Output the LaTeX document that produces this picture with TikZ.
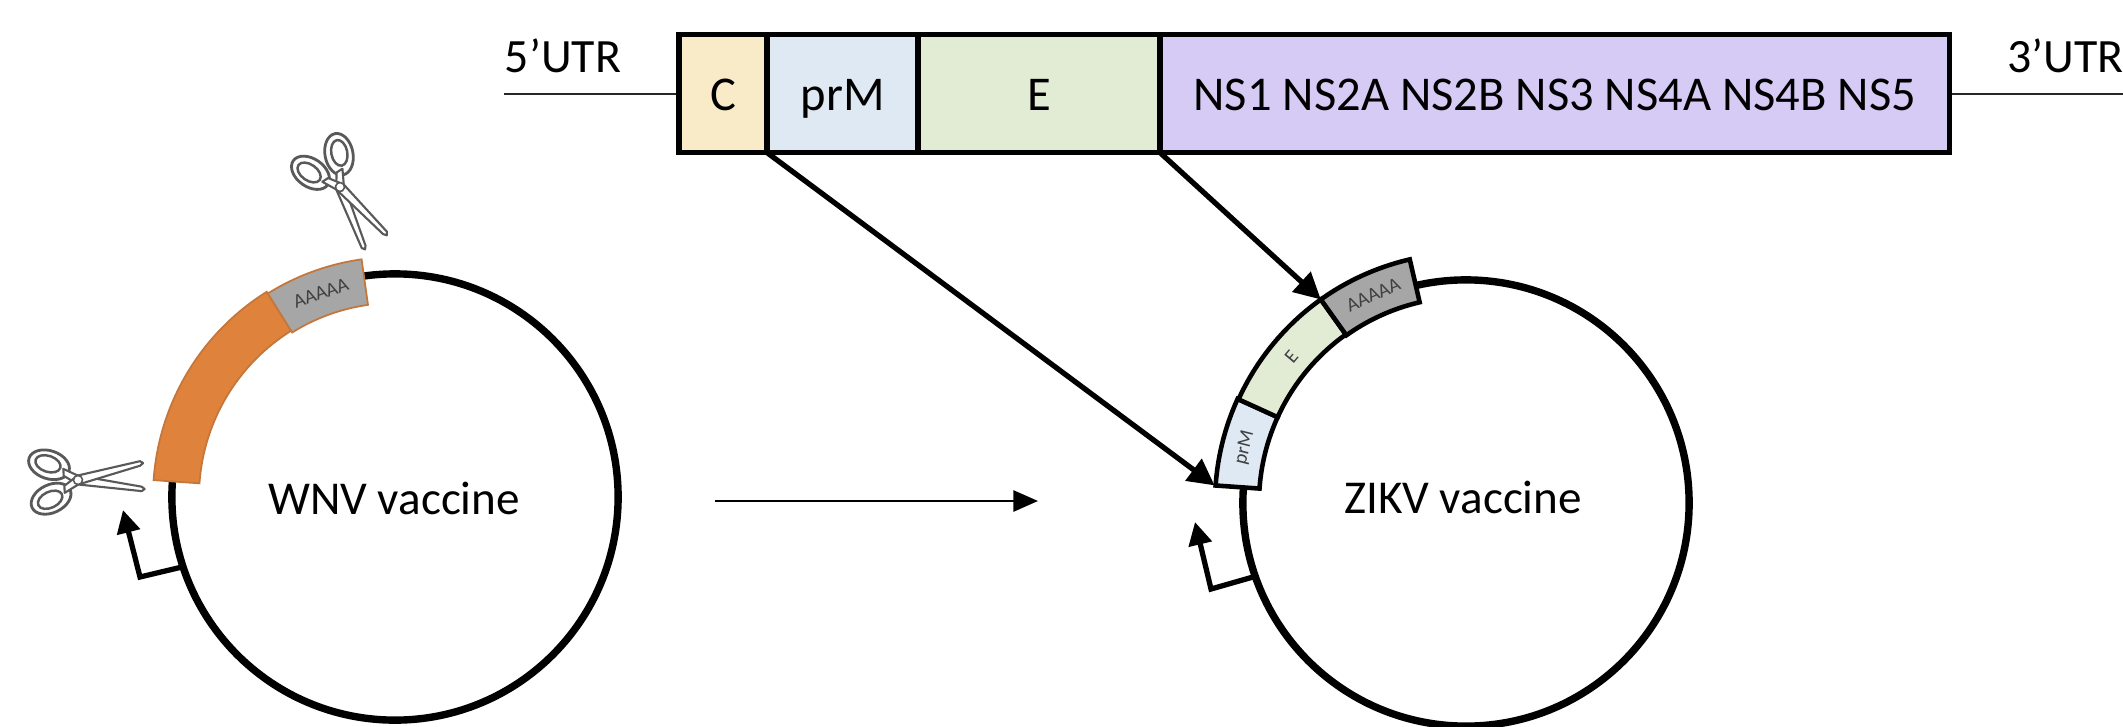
\documentclass[tikz,border=0pt]{standalone}
\usepackage{fontspec}
\setmainfont{Carlito}
\usetikzlibrary{arrows.meta}
\definecolor{cC}{HTML}{F9EBC8}
\definecolor{cprM}{HTML}{DEE9F4}
\definecolor{cE}{HTML}{E2ECD5}
\definecolor{cNS}{HTML}{D5CBF5}
\definecolor{cOr}{HTML}{DF833C}
\definecolor{cOrD}{HTML}{C5763A}
\definecolor{cGr}{HTML}{A6A6A6}
\tikzset{
  segbox/.style={draw=black,line width=1.5pt,outer sep=0pt,anchor=north west,minimum height=1.18cm,inner sep=0pt,text height=9.5pt,text depth=0pt,font=\fontsize{13.8}{16}\selectfont},
  lbl/.style={font=\fontsize{13.6}{16}\selectfont,inner sep=0pt},
  plasmid/.style={draw=black,line width=2.1pt,fill=white,circle,minimum size=4.46cm,inner sep=0pt,font=\fontsize{13.4}{16}\selectfont},
  thinline/.style={line width=0.5pt,draw=black!85},
  bigarrow/.style={line width=1.5pt,-{Triangle[length=7.5pt,width=7.5pt]}},
  promoter/.style={line width=1.5pt,-{Triangle[length=6.5pt,width=6.5pt]}},
  oseg/.style={draw=cOrD,line width=0.5pt},
  kseg/.style={draw=black,line width=1.3pt},
  tiny/.style={font=\fontsize{5.6}{6}\selectfont,inner sep=0pt,text=black!75},
  blade/.style={draw=black!65,fill=white,line width=0.6pt,line join=round},
  loopo/.style={draw=black!65,fill=white,line width=0.8pt},
}
\newcommand{\ringseg}[6]{%
  \path[#6] ([shift={(#1)}]#2:#4) arc[start angle=#2,end angle=#3,radius=#4*0.01cm]
    -- ([shift={(#1)}]#3:#5) arc[start angle=#3,end angle=#2,radius=#5*0.01cm] -- cycle;}
\newcommand{\scissorsicon}[3]{%
  \begin{scope}[shift={(#1,#2)},rotate=#3]
    \draw[loopo] (-28,-17) ellipse[x radius=0.21cm,y radius=0.14cm,rotate=22];
    \draw[loopo] (-28,17) ellipse[x radius=0.21cm,y radius=0.14cm,rotate=-22];
    \draw[blade] (-14,12) -- (0,4.5) -- (63,-10.5) -- (66,-13) -- (63,-15) -- (0,-4.5) -- (-14,5) -- cycle;
    \draw[blade] (-14,-12) -- (0,-4.5) -- (63,10.5) -- (66,13) -- (63,15) -- (0,4.5) -- (-14,-5) -- cycle;
    \draw[blade,line width=0.7pt] (-29,-18) ellipse[x radius=0.13cm,y radius=0.08cm,rotate=22];
    \draw[blade,line width=0.7pt] (-29,18) ellipse[x radius=0.13cm,y radius=0.08cm,rotate=-22];
    \draw[draw=black!65,fill=white,line width=0.45pt] (0,0) circle[radius=0.045cm];
  \end{scope}}
\begin{document}
\begin{tikzpicture}[x=0.01cm,y=0.01cm]
\useasboundingbox (0,0) rectangle (2123,726);
\clip (0,0) rectangle (2123,726);
% genome bar
\coordinate (l5) at (504,632);
\coordinate (r3) at (2123,632);
\draw[thinline] (l5) -- (679,632);
\draw[thinline] (1949,632) -- (r3);
\node[segbox,fill=cC,minimum width=0.88cm] (c) at (679,691.5) {C};
\node[segbox,fill=cprM,minimum width=1.51cm] (prm) at (767,691.5) {prM};
\node[segbox,fill=cE,minimum width=2.42cm] (e) at (918,691.5) {E};
\node[segbox,fill=cNS,minimum width=7.89cm] (ns) at (1160,691.5) {NS1 NS2A NS2B NS3 NS4A NS4B NS5};
\node[lbl] (u5) at (563,670) {5’UTR};
\node[lbl,anchor=west] (u3) at (2007,670) {3’UTR};
% plasmids
\node[plasmid] (wnv) at (395,229) {};
\node[lbl,font=\fontsize{13.4}{16}\selectfont] (wnvl) at (394,228) {WNV vaccine};
\node[plasmid] (zikv) at (1466,223) {};
\node[lbl,font=\fontsize{13.4}{16}\selectfont] (zikvl) at (1463,229) {ZIKV vaccine};
% WNV inserts
\ringseg{wnv.center}{176}{122}{242}{196}{fill=cOr,oseg}
\ringseg{wnv.center}{122}{98}{240}{194}{fill=cGr,oseg}
\node[tiny,rotate=20] (a1) at ([shift={(wnv.center)}]110:217) {AAAAA};
% ZIKV inserts
\ringseg{zikv.center}{176}{155.5}{251}{207}{fill=cprM,kseg}
\ringseg{zikv.center}{155.5}{125.5}{250}{207}{fill=cE,kseg}
\ringseg{zikv.center}{125.5}{103}{250}{206}{fill=cGr,kseg}
\node[tiny,rotate=24] (a2) at ([shift={(zikv.center)}]114:228) {AAAAA};
\node[tiny,rotate=50] (e2) at ([shift={(zikv.center)}]140:228) {E};
\node[tiny,rotate=76] (p2) at ([shift={(zikv.center)}]166:228) {prM};
% arrows
\coordinate (a1e) at ([shift={(zikv.center)}]176:252);
\coordinate (a2e) at ([shift={(zikv.center)}]125.5:250);
\draw[bigarrow] (prm.south west) -- (a1e);
\draw[bigarrow] (ns.south west) -- (a2e);
\coordinate (m1) at (715,225);
\coordinate (m2) at (1038,225);
\draw[line width=0.7pt,-{Triangle[length=7pt,width=6pt]}] (m1) -- (m2);
% promoters
\coordinate (p1a) at (182,159);
\coordinate (p1b) at (140,149);
\coordinate (p1c) at (123,216);
\draw[promoter] (p1a) -- (p1b) -- (p1c);
\coordinate (p2a) at (1253,149);
\coordinate (p2b) at (1211,137);
\coordinate (p2c) at (1195,204);
\draw[promoter] (p2a) -- (p2b) -- (p2c);
% scissors
\scissorsicon{78}{246}{3.5}
\scissorsicon{340}{539}{-57}
\end{tikzpicture}
\end{document}
